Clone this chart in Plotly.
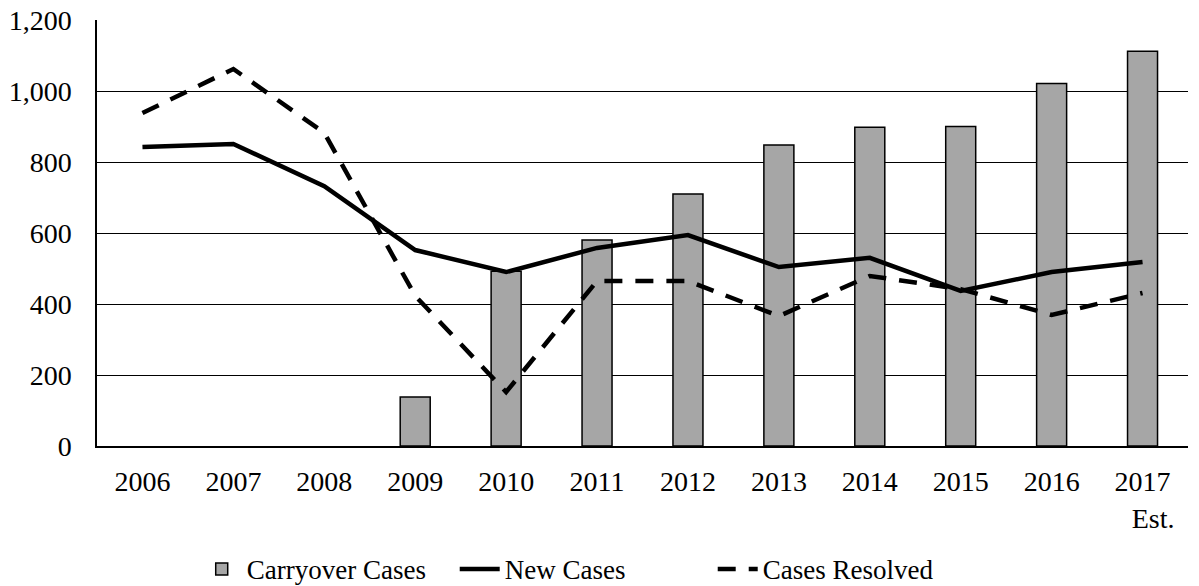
import plotly.graph_objects as go

years = ["2006", "2007", "2008", "2009", "2010", "2011", "2012", "2013", "2014", "2015", "2016", "2017"]
tick_labels = ["2006", "2007", "2008", "2009", "2010", "2011", "2012", "2013", "2014", "2015", "2016",
               "2017<br>\u00a0\u00a0\u00a0Est."]
carryover = [None, None, None, 138, 492, 580, 710, 848, 898, 900, 1021, 1112]
new_cases = [842, 851, 732, 552, 490, 558, 594, 504, 530, 437, 490, 518]
resolved = [938, 1062, 882, 423, 152, 465, 465, 366, 479, 442, 369, 431]

font_family = "Liberation Serif"

fig = go.Figure()
fig.add_trace(go.Bar(
    x=years, y=carryover, name="Carryover Cases",
    width=0.33,
    marker=dict(color="#a6a6a6", line=dict(color="black", width=1.5)),
))
fig.add_trace(go.Scatter(
    x=years, y=new_cases, name="New Cases", mode="lines",
    line=dict(color="black", width=4.5),
))
fig.add_trace(go.Scatter(
    x=years, y=resolved, name="Cases Resolved", mode="lines",
    line=dict(color="black", width=4.5, dash="18px,13px"),
))

fig.update_layout(
    width=1199, height=586,
    margin=dict(l=97, r=11, t=20, b=140, autoexpand=False),
    paper_bgcolor="white", plot_bgcolor="white",
    font=dict(family=font_family, size=28, color="black"),
    showlegend=True,
    legend=dict(orientation="h", x=0.0914, xanchor="left", y=-0.232, yanchor="top",
                font=dict(size=27), itemwidth=40, traceorder="normal",
                entrywidth=203, entrywidthmode="pixels"),
    xaxis=dict(type="category", tickvals=years, ticktext=tick_labels,
               showline=True, linecolor="black", linewidth=1.5,
               showgrid=False, ticks="", ticklabelstandoff=10),
    yaxis=dict(range=[0, 1200], dtick=200, tickformat=",",
               showline=True, linecolor="black", linewidth=1.5,
               showgrid=True, gridcolor="black", gridwidth=1,
               ticks="", zeroline=False, ticklabelstandoff=18,
               ticklabeloverflow="allow"),
)

fig.write_html("out.html", config={"displayModeBar": False},
               post_script="document.body.style.margin='0';")
